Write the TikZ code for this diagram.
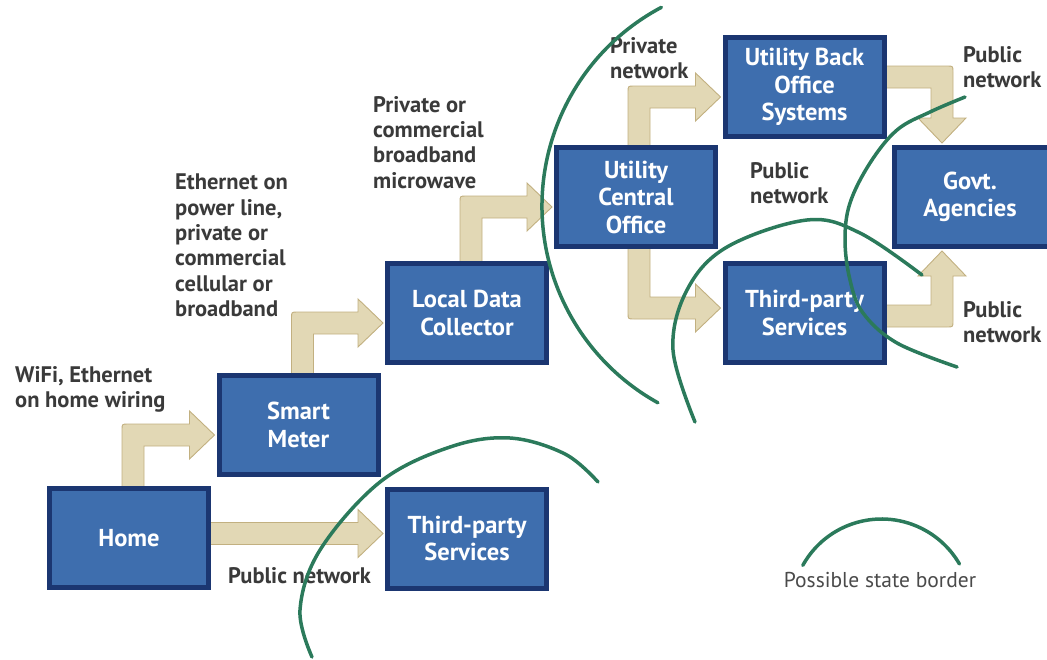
\documentclass[tikz,border=0pt]{standalone}
\usepackage{fontspec}
\setmainfont{PT Sans}
\usetikzlibrary{calc}
\pgfdeclarelayer{bg}
\pgfsetlayers{bg,main}
\definecolor{boxfill}{HTML}{3E6EAE}
\definecolor{boxline}{HTML}{1B3671}
\definecolor{arrfill}{HTML}{E2D8B5}
\definecolor{arrline}{HTML}{C2B080}
\definecolor{stateb}{HTML}{2B7A5B}
\definecolor{labtext}{HTML}{3A3A3A}
\definecolor{legtext}{HTML}{4A4A4A}
\newcommand\boxfont{\bfseries\fontsize{24.5}{27.5}\selectfont}
\newcommand\labfont{\bfseries\fontsize{22.5}{25.3}\selectfont}
\newcommand\legfont{\fontsize{21.5}{24}\selectfont}
% up then right
\newcommand\ArrUpRight[4]{%
  \coordinate (s) at ($(#1.north west)+(#3,2)$);
  \coordinate (t) at ($(#2.west)+(-2,#4)$);
  \coordinate (k) at (s |- t);
  \draw[blockarrow] (s) -- ($(k)+(0,-5)$) .. controls ($(k)+(0,-11)$) .. ($(k)+(6,-11)$)
    -- ($(t)+(-25,-11)$) -- ($(t)+(-25,-24)$) -- (t) -- ($(t)+(-25,24)$) -- ($(t)+(-25,11)$)
    -- ($(k)+(22,11)$) -- ($(s)+(22,0)$) -- cycle;
}
% down then right
\newcommand\ArrDownRight[4]{%
  \coordinate (s) at ($(#1.south west)+(#3,-2)$);
  \coordinate (t) at ($(#2.west)+(-2,#4)$);
  \coordinate (k) at (s |- t);
  \draw[blockarrow] (s) -- ($(k)+(0,5)$) .. controls ($(k)+(0,11)$) .. ($(k)+(6,11)$)
    -- ($(t)+(-25,11)$) -- ($(t)+(-25,24)$) -- (t) -- ($(t)+(-25,-24)$) -- ($(t)+(-25,-11)$)
    -- ($(k)+(22,-11)$) -- ($(s)+(22,0)$) -- cycle;
}
% right then down
\newcommand\ArrRightDown[4]{%
  \coordinate (s) at ($(#1.east)+(-2,#3)$);
  \coordinate (t) at ($(#2.north west)+(#4,-2)$);
  \coordinate (k) at (t |- s);
  \draw[blockarrow] ($(s)+(0,-11)$) -- ($(k)+(5,-11)$) .. controls ($(k)+(11,-11)$) .. ($(k)+(11,-5)$)
    -- ($(t)+(11,-25)$) -- ($(t)+(24,-25)$) -- (t) -- ($(t)+(-24,-25)$) -- ($(t)+(-11,-25)$)
    -- ($(k)+(-11,11)$) -- ($(s)+(0,11)$) -- cycle;
}
% right then up
\newcommand\ArrRightUp[4]{%
  \coordinate (s) at ($(#1.east)+(-2,#3)$);
  \coordinate (t) at ($(#2.south west)+(#4,2)$);
  \coordinate (k) at (t |- s);
  \draw[blockarrow] ($(s)+(0,11)$) -- ($(k)+(5,11)$) .. controls ($(k)+(11,11)$) .. ($(k)+(11,5)$)
    -- ($(t)+(11,25)$) -- ($(t)+(24,25)$) -- (t) -- ($(t)+(-24,25)$) -- ($(t)+(-11,25)$)
    -- ($(k)+(-11,-11)$) -- ($(s)+(0,-11)$) -- cycle;
}
\begin{document}
\begin{tikzpicture}[x=1pt,y=-1pt,
  box/.style={draw=boxline, line width=5pt, fill=boxfill, text=white, font=\boxfont,
    align=center, minimum width=159pt, minimum height=99pt, inner sep=0pt},
  lab/.style={text=labtext, font=\labfont, align=left, anchor=north west, inner sep=0pt},
  blockarrow/.style={fill=arrfill, draw=arrline, line width=0.9pt, line join=miter},
  stateborder/.style={draw=stateb, line width=3.5pt, line cap=round}]
\useasboundingbox (0,0) rectangle (1047,659);

% boxes
\node[box] (home)  at (129,538)   {Home};
\node[box] (meter) at (298.5,425) {Smart\\Meter};
\node[box] (ldc)   at (467,313)   {Local Data\\Collector};
\node[box] (tpsa)  at (467,538.5) {Third-party\\Services};
\node[box] (uco)   at (636,197)   {Utility\\Central\\Office};
\node[box] (ubos)  at (804.5,87)  {Utility Back\\Office\\Systems};
\node[box] (tpsb)  at (804.5,313) {Third-party\\Services};
\node[box, minimum width=165pt] (govt) at (977,197) {\hspace*{-14pt}Govt.\\\hspace*{-14pt}Agencies};

% block arrows
\begin{pgfonlayer}{bg}
\ArrUpRight{home}{meter}{75}{10}
\ArrUpRight{meter}{ldc}{75}{10}
\ArrUpRight{ldc}{uco}{75}{10}
\ArrUpRight{uco}{ubos}{74}{10}
\ArrDownRight{uco}{tpsb}{74}{-5}
\ArrRightDown{ubos}{govt}{-10}{50}
\ArrRightUp{tpsb}{govt}{3}{50}
\coordinate (s) at ($(home.east)+(-2,0)$);
\coordinate (t) at ($(tpsa.west)+(-2,-5)$);
\coordinate (k) at (s |- t);
\draw[blockarrow] ($(k)+(0,-11)$) -- ($(t)+(-25,-11)$) -- ($(t)+(-25,-24)$) -- (t)
  -- ($(t)+(-25,24)$) -- ($(t)+(-25,11)$) -- ($(k)+(0,11)$) -- cycle;
\end{pgfonlayer}

% labels
\node[lab] (l1) at (15,366)  {WiFi, Ethernet\\on home wiring};
\node[lab] (l2) at (175,174) {Ethernet on\\power line,\\private or\\commercial\\cellular or\\broadband};
\node[lab] (l3) at (373,96)  {Private or\\commercial\\broadband\\microwave};
\node[lab] (l4) at (610,37)  {Private\\network};
\node[lab] (l5) at (750,162) {Public\\network};
\node[lab] (l6) at (963,46)  {Public\\network};
\node[lab] (l7) at (963,301) {Public\\network};
\node[lab] (l8) at (228,567) {Public network};

% possible state borders
\draw[stateborder] (767,206) ++(242:225) arc[start angle=242, end angle=119, radius=225];
\draw[stateborder] plot[smooth, tension=0.6] coordinates {(312,657) (300,610) (320,550) (380,482) (450,447) (510,438) (565,454) (598,482)};
\draw[stateborder] plot[smooth, tension=0.6] coordinates {(695,422) (673,350) (687,290) (727,247) (807,220) (860,233) (922,275)};
\draw[stateborder] plot[smooth, tension=0.6] coordinates {(965,97) (930,112) (897,130) (870,163) (850,203) (845,240) (850,280) (863,313) (897,343) (957,367)};

% legend
\draw[stateborder] (881.5,609) ++(209:90) arc[start angle=209, end angle=330, radius=90];
\node[text=legtext, font=\legfont, inner sep=0pt] (leg) at (880,580) {Possible state border};
\end{tikzpicture}
\end{document}
